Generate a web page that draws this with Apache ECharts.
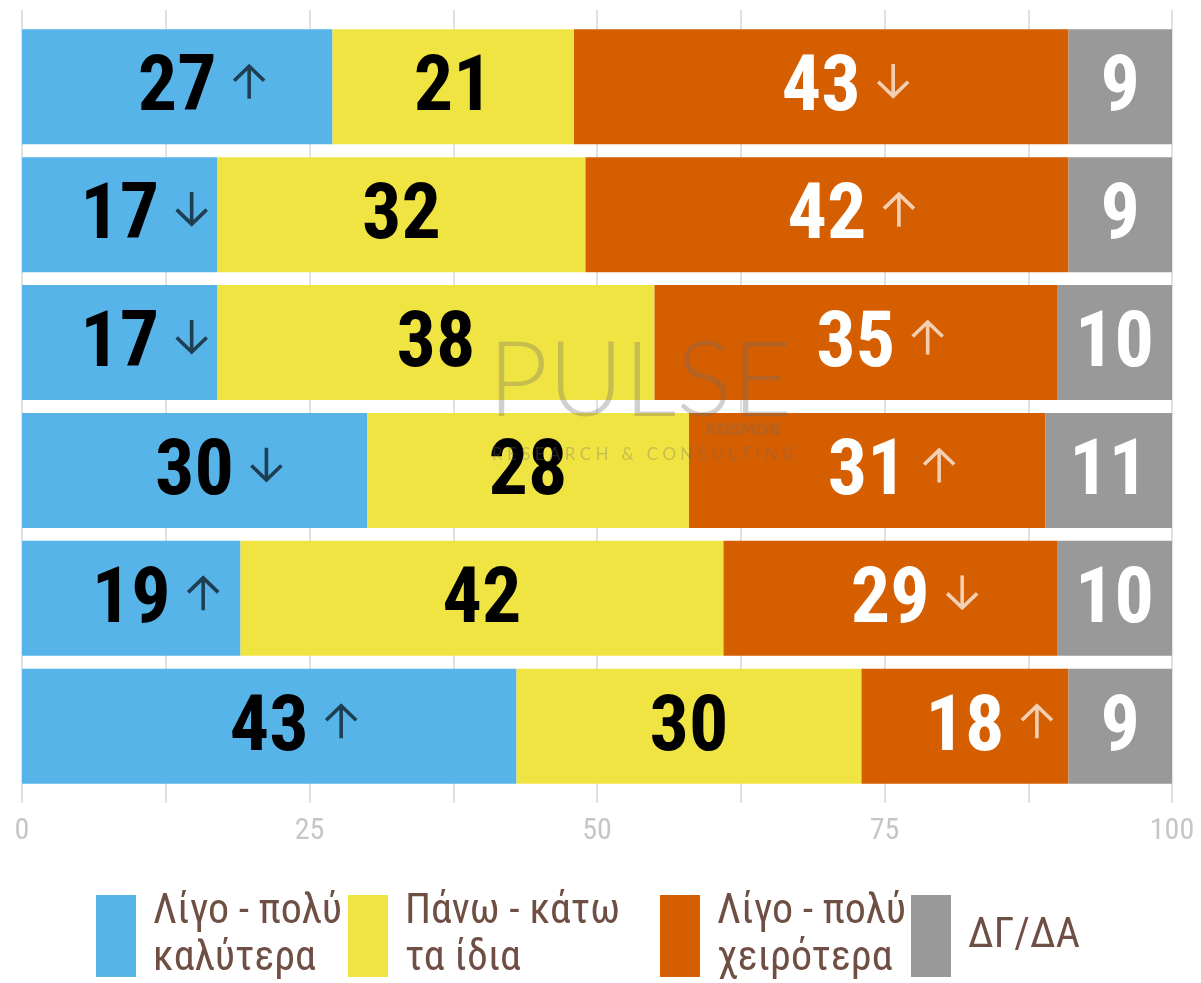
<!DOCTYPE html>
<html>
<head>
<meta charset="utf-8">
<script src="https://cdn.jsdelivr.net/npm/echarts@6/dist/echarts.min.js"></script>
<style>
html,body{margin:0;padding:0;background:#fff;}
#chart{width:1201px;height:983px;}
</style>
</head>
<body>
<div id="chart"></div>
<script>
// ---- data ----
const rows = ['1', '2', '3', '4', '5', '6'];
const seriesNames = ['Λίγο - πολύ\nκαλύτερα', 'Πάνω - κάτω\nτα ίδια', 'Λίγο - πολύ\nχειρότερα', 'ΔΓ/ΔΑ'];
const better = [27, 17, 17, 30, 19, 43];
const same   = [21, 32, 38, 28, 42, 30];
const worse  = [43, 42, 35, 31, 29, 18];
const dkna   = [9, 9, 10, 11, 10, 9];
const betterArrows = ['up', 'down', 'down', 'down', 'up', 'up'];
const worseArrows  = ['down', 'up', 'up', 'up', 'down', 'up'];
const xTicks = [0, 25, 50, 75, 100];

const colors = ['#56B4E9', '#F0E442', '#D55E00', '#999999'];
const FONT = "'Roboto Condensed','Liberation Sans Narrow','DejaVu Sans Condensed','Arial Narrow',sans-serif";

// arrow icons (decoration glyphs), drawn as small SVG images in the label
function arrowIcon(dir, color) {
  const path = dir === 'up'
    ? 'M17.5 35 L17.5 2.5 M2.5 17 L17.5 2.5 L32.5 17'
    : 'M17.5 0 L17.5 32.5 M2.5 18 L17.5 32.5 L32.5 18';
  const svg = '<svg xmlns="http://www.w3.org/2000/svg" width="35" height="54" viewBox="0 0 35 54">' +
    '<path d="' + path + '" fill="none" stroke="' + color + '" stroke-width="3.6" stroke-linecap="butt" stroke-linejoin="miter"/></svg>';
  return 'data:image/svg+xml;charset=utf-8,' + encodeURIComponent(svg);
}

function makeLabel(textColor, arrowColor, arrows) {
  return {
    show: true,
    position: 'inside',
    offset: [0, 4],
    formatter: function (p) {
      const a = arrows ? arrows[p.dataIndex] : null;
      if (!a) return '{n|' + p.value + '}';
      return '{p| }{n|' + p.value + '}{g| }{' + (a === 'up' ? 'u' : 'd') + '| }';
    },
    rich: {
      n: { fontFamily: FONT, fontWeight: 'bold', fontSize: 78, color: textColor, lineHeight: 80 },
      p: { width: 50, fontSize: 10 },
      g: { width: 15, fontSize: 10 },
      u: { width: 35, height: 54, fontSize: 10, backgroundColor: { image: arrowIcon('up', arrowColor) } },
      d: { width: 35, height: 54, fontSize: 10, backgroundColor: { image: arrowIcon('down', arrowColor) } }
    }
  };
}

const dataSets = [better, same, worse, dkna];
const labels = [
  makeLabel('#000000', 'rgba(0,0,0,0.65)', betterArrows),
  makeLabel('#000000', '#000', null),
  makeLabel('#ffffff', 'rgba(255,255,255,0.7)', worseArrows),
  makeLabel('#ffffff', '#fff', null)
];

const series = dataSets.map((d, i) => ({
  name: seriesNames[i],
  type: 'bar',
  stack: 'total',
  xAxisIndex: 1,
  yAxisIndex: 1,
  barWidth: 115,
  data: d,
  itemStyle: { color: colors[i] },
  label: labels[i],
  emphasis: { disabled: true }
}));

const legendLefts = [96, 348, 660, 911];
const legendTops = [889, 889, 889, 895];
const legends = seriesNames.map((n, i) => ({
  left: legendLefts[i], top: legendTops[i], padding: 0,
  itemWidth: 40, itemHeight: 82,
  icon: 'rect',
  data: [n],
  textStyle: { fontFamily: FONT, fontSize: 42, color: '#6f4e44', lineHeight: 47, padding: [0, 0, 0, 12] }
}));

const chart = echarts.init(document.getElementById('chart'), null, { renderer: 'canvas' });
chart.setOption({
  animation: false,
  color: colors,
  grid: [
    { left: 22, right: 29, top: 10, height: 793 },
    { left: 22, right: 29, top: 22.8, height: 767.4 }
  ],
  xAxis: [
    {
      gridIndex: 0, type: 'value', min: 0, max: 100, interval: 12.5,
      axisLine: { show: false }, axisTick: { show: false },
      splitLine: { show: true, lineStyle: { color: '#e1e1e1', width: 2 } },
      axisLabel: {
        margin: 13, fontFamily: FONT, fontSize: 30, color: '#c6c6c6',
        formatter: v => (xTicks.indexOf(v) >= 0 ? String(v) : '')
      }
    },
    {
      gridIndex: 1, type: 'value', min: 0, max: 100, show: false,
      splitLine: { show: false }
    }
  ],
  yAxis: [
    { gridIndex: 0, type: 'category', data: rows, show: false },
    { gridIndex: 1, type: 'category', data: rows, inverse: true, show: false }
  ],
  legend: legends,
  graphic: [
    {
      type: 'text', left: 488, top: 330, z: 100, silent: true,
      style: { text: 'PULSE', fontFamily: "Lato, 'Open Sans', sans-serif", fontWeight: 300, fontSize: 104, fill: 'rgba(110,110,110,0.32)' }
    },
    {
      type: 'text', left: 706, top: 424, z: 100, silent: true,
      style: { text: 'KOSMON', fontFamily: "'DejaVu Sans',sans-serif", fontWeight: 'bold', fontSize: 15, fill: 'rgba(110,110,110,0.3)' }
    },
    {
      type: 'text', left: 492, top: 446, z: 100, silent: true,
      style: { text: 'R E S E A R C H   &   C O N S U L T I N G', fontFamily: "Lato, sans-serif", fontSize: 17, fill: 'rgba(110,110,110,0.32)' }
    }
  ],
  series: series
});
</script>
</body>
</html>
